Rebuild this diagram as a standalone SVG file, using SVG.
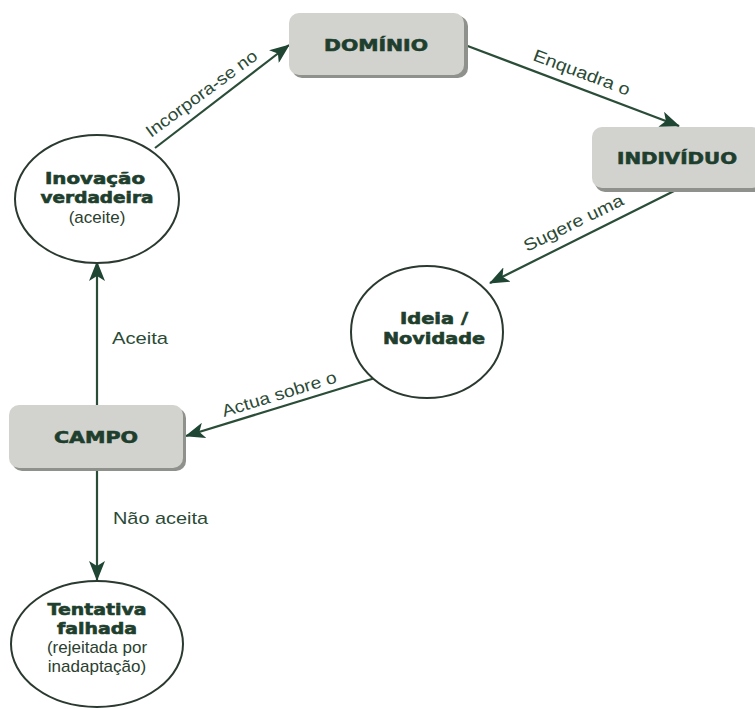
<svg xmlns="http://www.w3.org/2000/svg" width="755" height="709" viewBox="0 0 755 709">
<defs>
<marker id="ah" viewBox="0 0 20 16" refX="19" refY="8" markerWidth="20" markerHeight="16" markerUnits="userSpaceOnUse" orient="auto">
<path d="M0,0 L20,8 L0,16 L5,8 Z" fill="#1f4533"/>
</marker>
<style>
.box{fill:#d2d2cf;}
.shadow{fill:#8f918c;}
.circ{fill:#ffffff;stroke:#2b3a30;stroke-width:2;}
.edge{stroke:#2a4d38;stroke-width:2.2;fill:none;marker-end:url(#ah);}
.bt{font-family:"DejaVu Sans",sans-serif;font-weight:bold;fill:#1f3f2e;stroke:#1f3f2e;stroke-width:0.6;text-anchor:middle;}
.nt{font-family:"Liberation Sans",Arial,sans-serif;fill:#2a4030;text-anchor:middle;}
.lbl{font-family:"Liberation Sans",Arial,sans-serif;fill:#2a4a36;font-size:17px;}
</style>
</defs>
<g id="connectors">
<line class="edge" x1="155" y1="148" x2="289" y2="45"/>
<line class="edge" x1="465" y1="45" x2="679" y2="126"/>
<line class="edge" x1="676" y1="190" x2="490" y2="283"/>
<line class="edge" x1="375" y1="378" x2="186" y2="436"/>
<line class="edge" x1="97" y1="405" x2="97" y2="262"/>
<line class="edge" x1="97" y1="469" x2="97" y2="580"/>
<text class="lbl" transform="translate(151,138) rotate(-36.5)" textLength="134" lengthAdjust="spacingAndGlyphs">Incorpora-se no</text>
<text class="lbl" transform="translate(532,60) rotate(20.5)" textLength="102" lengthAdjust="spacingAndGlyphs">Enquadra o</text>
<text class="lbl" transform="translate(527,252) rotate(-26)" textLength="109" lengthAdjust="spacingAndGlyphs">Sugere uma</text>
<text class="lbl" transform="translate(224,417) rotate(-17)" textLength="119" lengthAdjust="spacingAndGlyphs">Actua sobre o</text>
<text class="lbl" x="112" y="344" textLength="56" lengthAdjust="spacingAndGlyphs">Aceita</text>
<text class="lbl" x="113" y="524" textLength="95" lengthAdjust="spacingAndGlyphs">Não aceita</text>
</g>
<g id="dominio">
<rect class="shadow" x="292" y="16" width="176" height="62" rx="10"/>
<rect class="box" x="289" y="13" width="175" height="62" rx="10"/>
<text class="bt" x="376" y="51" font-size="16" textLength="104" lengthAdjust="spacingAndGlyphs">DOMÍNIO</text>
</g>
<g id="individuo">
<rect class="shadow" x="595" y="130" width="170" height="62" rx="10"/>
<rect class="box" x="592" y="127" width="170" height="61" rx="10"/>
<text class="bt" x="677" y="164" font-size="16" textLength="120" lengthAdjust="spacingAndGlyphs">INDIVÍDUO</text>
</g>
<g id="campo">
<rect class="shadow" x="12" y="408" width="174" height="63" rx="10"/>
<rect class="box" x="9" y="405" width="174" height="63" rx="10"/>
<text class="bt" x="96" y="443" font-size="16" textLength="84" lengthAdjust="spacingAndGlyphs">CAMPO</text>
</g>
<g id="inovacao">
<ellipse class="circ" cx="97" cy="199" rx="82" ry="64"/>
<text class="bt" x="95" y="184" font-size="15" textLength="100" lengthAdjust="spacingAndGlyphs">Inovação</text>
<text class="bt" x="97" y="203" font-size="15" textLength="113" lengthAdjust="spacingAndGlyphs">verdadeira</text>
<text class="nt" x="97" y="223" font-size="17">(aceite)</text>
</g>
<g id="ideia">
<ellipse class="circ" cx="427" cy="332" rx="76" ry="66"/>
<text class="bt" x="434" y="324" font-size="15" textLength="68" lengthAdjust="spacingAndGlyphs">Ideia /</text>
<text class="bt" x="434" y="344" font-size="15" textLength="102" lengthAdjust="spacingAndGlyphs">Novidade</text>
</g>
<g id="tentativa">
<ellipse class="circ" cx="97" cy="644" rx="86" ry="63"/>
<text class="bt" x="97" y="615" font-size="15" textLength="99" lengthAdjust="spacingAndGlyphs">Tentativa</text>
<text class="bt" x="97" y="634" font-size="15" textLength="80" lengthAdjust="spacingAndGlyphs">falhada</text>
<text class="nt" x="97" y="653" font-size="17">(rejeitada por</text>
<text class="nt" x="97" y="672" font-size="17">inadaptação)</text>
</g>
</svg>
